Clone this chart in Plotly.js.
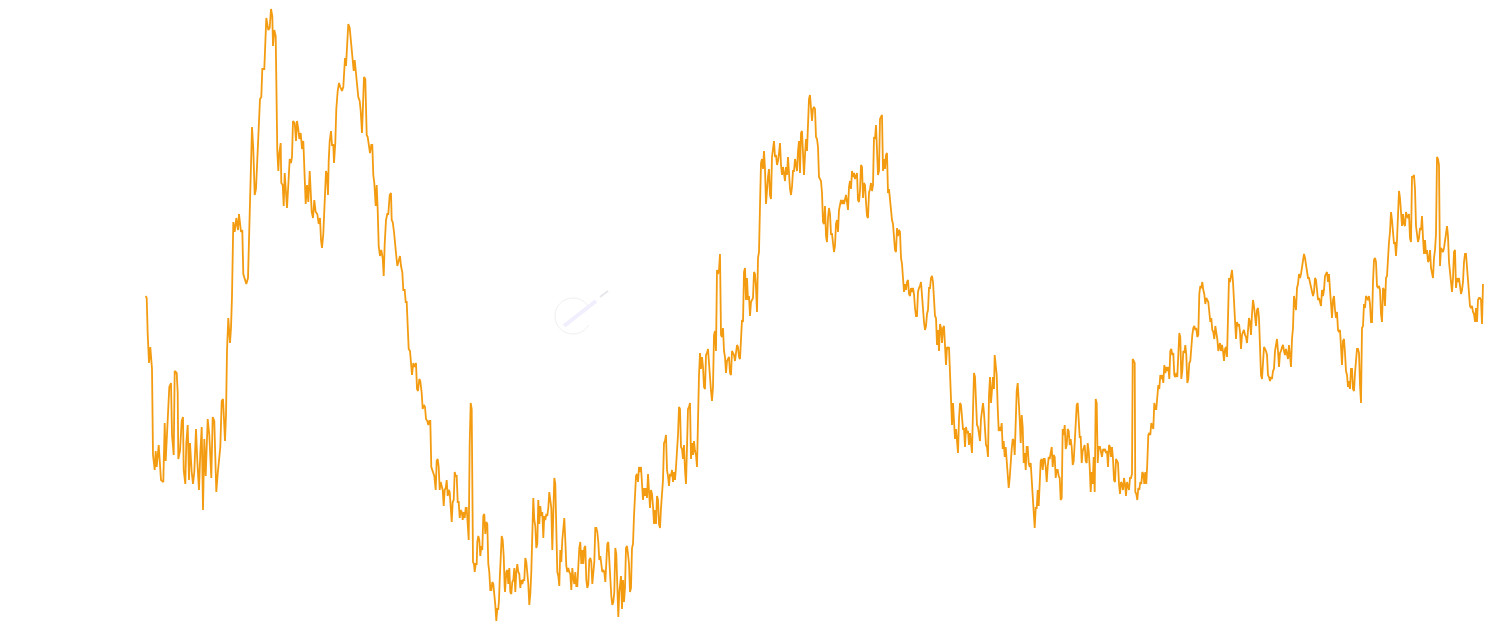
<!DOCTYPE html>
<html>
<head>
<meta charset="utf-8">
<script src="https://cdn.plot.ly/plotly-3.0.1.min.js"></script>
<style>html,body{margin:0;padding:0;background:#fff;}#chart{width:1490px;height:633px;}</style>
</head>
<body>
<div id="chart"></div>
<script>
// Day index and price readings, segment by segment
const dayA = [0.7,1.7,2.7,4,5.3,7,8,9.7,10.7,11.7,13.7,15,16,18.3,19.7,20.7,22.7,24.3,26,27,
28.7,29.7,31.7,32.7,33.3,35,36.7,38,38.7,40.3,41.3,42.7,44,45,46.7,48,49.3,51,52.3,54,
55.3,56.7,58,59.3,60.7,62.7,64.3,65.3,66.3,67.7,69.3,70.3,71.3,72.7,74,75.3,76.7,78,80,81,
82,83.3,85,86,87,88.3,89.7,91.3,93,94,96,97.3,98.3,99.7,101.3,103,104,105,106,107,
108.3,109.7,111,112.3,113.7,115,116.3,117.3];
const priceA = [35.4,35.2,31.6,28.7,30.3,28.1,19.5,18.0,19.9,18.3,20.5,18.3,17.0,16.8,22.7,18.9,23.7,26.3,26.7,21.5,
19.5,27.9,27.7,25.7,19.1,19.9,22.9,23.3,18.0,16.6,20.7,22.5,17.0,20.7,17.8,16.6,17.8,22.1,18.9,16.0,
19.7,22.3,14.0,21.1,17.4,23.1,21.5,18.9,17.2,23.3,22.9,19.3,15.8,17.6,19.1,20.3,24.9,25.1,20.9,23.5,
29.9,33.2,30.7,32.2,35.4,42.8,41.8,43.2,42.0,43.6,41.8,42.0,37.6,37.2,36.6,37.2,40.8,44.0,49.1,52.3,
50.1,45.5,46.1,49.1,53.5,55.1,55.3,58.1];

const dayB = [119.3,121.3,123.3,124.7,126,127.3,128,129.3,130.7,131.3,
132.3,133.3,134.3,135.7,136.3,137.7,138.7,139.7,140.7,142,
143.3,144.7,146,147,148,149.7,151,152,153.3,154.3,
155.7,157,158.3,159.3,160.7,162,163.3,164.7,165.7,166.7,
168,169.3,170.7,172.3,173.7,175,176,177,178.3,179.7,
181,182,183,183.7,184.7,186,187,188.3,189,190.3,
191.3,192.7,194,195.3,197,198.3,199.3,200,201,202,
203.3,204.7,205.7,206.7,207.7,208.7,209.7,211,212,213.3,
214.7,215.7,217,218,219,220.3,221.7,222.7,224,225,
226.3,227.3,228.3,229.3,230.7,231.7,232.7,233.7,235,236.3,
237.7,238.7,239.7];
const priceB = [58.1,63.2,62.0,62.2,64.1,63.4,60.4,62.0,61.4,56.9,
49.9,47.9,49.7,50.7,46.7,46.5,44.4,47.7,45.7,44.2,
46.5,49.1,48.7,49.3,52.9,52.7,50.9,52.9,52.1,51.1,
51.7,50.1,50.9,47.3,44.6,46.5,44.8,47.9,45.5,43.8,
43.2,45.0,43.8,43.6,42.6,43.2,41.0,40.2,41.6,46.1,
47.9,47.5,45.5,48.9,50.9,51.9,50.5,50.5,48.7,50.7,
54.1,55.9,56.7,56.3,55.9,56.3,57.9,59.2,58.4,61.0,
62.6,62.2,61.0,59.8,58.6,57.9,59.0,57.7,56.1,55.3,
54.9,53.9,51.7,55.1,57.3,57.1,51.5,51.3,50.5,49.7,
50.5,50.5,47.5,46.7,44.4,46.5,44.0,40.4,39.4,40.0,
39.2,37.4,40.6];

const dayC = [241,242.3,243.3,244.7,246,246.7,247.7,249,250,251.3,
252.3,253.7,255,256,257.3,258.3,259.7,260.7,261.7,262.7,
263.7,265,266,267,268.3,269.7,271,272,273,274.3,
275.3,276.7,277.7,279,280,281,282.3,283.3,284.3,285.3,
286.3,287.3,288.3,289.3,290.7,291.7,292.7,293.7,294.7,295.7,
296.7,297.7,298.7,299.7,300.7,301.7,302.7,303.7,304.7,305.7,
306.7,307.7,308.7,309.7,310.7,311.7,312.7,313.7,314.7,315.7,
316.7,317.7,318.7,319.7,320.7,321.7,322.7,323.7,324.7,325.7,
326.7,327.3,328,329,329.7,330.7,331.7,
332.3,333.3,334.3,335.3,336.3,337.3,338.3,339.3,340.3,341.3,
342.3,343.3,344.3,345.3,346.3,347.3,348.3,349.3,350.3,351.3,
352.3,353.3,354,354.7,355.7,356.7,357.7,358.7,359.7];
const priceC = [43.0,43.6,43.6,45.5,45.7,43.0,42.8,41.8,40.4,39.4,
38.4,39.0,39.4,38.4,37.8,36.0,36.0,34.8,34.8,32.4,
30.1,29.9,28.9,27.5,28.7,28.3,28.7,26.1,25.9,27.1,
26.9,25.7,24.1,24.5,24.3,23.1,22.9,22.5,22.9,22.9,
18.3,18.0,17.6,17.4,16.0,18.9,19.1,18.3,16.0,16.8,
16.4,16.0,14.4,16.0,16.2,17.0,15.4,16.0,15.8,14.6,
12.8,14.8,15.0,17.8,17.4,17.4,14.8,14.8,13.2,14.0,
13.8,13.0,13.8,13.2,14.2,14.2,12.4,11.0,20.7,24.7,
24.1,13.0,8.8,8.6,7.8,8.6,8.6,
10.8,11.4,11.0,9.4,10.4,10.0,13.4,13.6,11.6,12.8,
12.6,8.6,7.8,6.0,6.0,6.8,6.6,5.8,4.5,2.9,
4.1,4.1,5.0,7.0,9.0,11.4,11.0,9.4,6.2];

const dayD = [360,
361.3,362.3,363.3,364.3,365.3,366.3,367.3,368.3,369.3,370.3,
371.3,372.3,373.3,374.3,375.3,376.3,377.3,378.3,379.3,380.3,
381.3,382.3,383.3,384.3,385.3,386.3,387.3,388.3,389.3,390.3,
391.3,392.3,393.3,394.3,395.3,396.3,397.3,398.3,399.3,400.3,
401.3,402.3,403.3,404.3,405.3,406.3,407.3,408.3,409.3,410.3,
411.3,412.3,413.3,414.3,415.3,416.3,417.3,418.3,419.3,420.3,
421.3,422.3,423.3,424.3,425.3,426.3,427.3,428.3,429.3,430.3,
431.3,432.3,433.3,434.3,435.3,436.3,437.3,438.3,439.3,440.3,
441.3,442.3,443.3,444.3,445.3,446.3,447.3,448.3,449.3,450.3,
451.3,452.3,453.3,454.3,455.3,456.3,457.3,458.3,459.3,460.3,
461.3,462.3,463.3,464.3,465.3,466.3,467.3,468.3,469.3,470.3,
471.3,472.3,473.3,474.3];
const priceD = [5.8,
7.8,8.0,6.6,8.2,5.8,5.6,6.8,7.0,8.2,5.8,
7.8,8.6,7.8,7.6,6.2,7.0,6.6,7.0,7.0,9.2,
8.8,7.8,6.6,4.5,5.6,7.8,11.0,15.2,13.0,12.4,
10.2,10.6,15.0,12.6,14.4,13.4,13.8,11.2,13.4,13.0,
13.6,13.4,14.2,15.8,15.0,14.2,10.0,15.0,17.2,16.6,
11.0,7.8,7.4,6.4,10.0,8.8,11.0,12.6,13.2,11.0,
8.4,7.8,8.2,7.8,7.6,6.0,8.2,7.2,6.6,7.8,
6.4,6.4,8.8,10.2,10.8,8.6,10.0,8.6,10.2,10.4,
7.0,6.2,6.6,9.0,9.2,8.8,6.6,8.0,8.8,12.2,
12.2,11.8,10.8,9.0,9.4,8.6,7.8,8.0,7.8,6.8,
8.6,10.6,10.8,8.6,6.2,5.4,4.5,4.8,5.8,10.2,
9.6,7.0,3.3,5.8];

const dayE = [476,477,478,479,480,481,482,483,484,485,486,487,488,489,490,491,492,493,494,495,
496,497,498,499,500,501,502,503,504,505,506,507,508,509,510,511,512,513,514,515,
516,517,518,519,520,521,522,523,524,525,526,527,528,529,530,531,532,533,534,535,
536,537,538,539,540,541,542,543,544,545,546,547,548,549,550,551,552,553,554,555,
556,557,558,559,560,561,562,563,564,565,566,567,568,569,570,571,572,573,574,575,
576,577,578,579,580,581,582,583,584,585,586,587,588,589,590,591,592,593,594];
const priceE = [7.4,4.1,7.0,4.8,6.2,10.2,10.4,9.6,8.6,5.8,
6.2,10.2,10.6,13.4,15.0,17.4,17.6,16.8,18.3,17.8,
18.3,16.0,15.0,16.2,15.4,16.2,15.2,17.6,16.2,14.2,
16.0,15.6,14.4,12.6,14.0,12.6,15.4,15.0,12.6,12.2,
14.2,16.0,17.0,20.7,20.9,21.5,18.0,17.4,16.4,17.6,
17.4,18.0,16.8,17.8,17.0,18.3,19.5,21.5,24.3,24.1,
20.3,20.1,19.1,20.5,18.0,16.6,20.3,24.1,24.3,24.7,
19.1,20.7,19.5,20.9,19.9,19.5,18.3,25.3,27.5,29.7,
28.1,29.3,28.3,26.3,26.1,29.5,29.7,30.1,28.3,26.5,
25.9,24.9,26.3,31.5,31.9,29.9,38.0,37.6,38.0,39.6,
31.5,31.3,32.2,29.9,29.3,27.7,28.9,29.1,29.3,27.7,
27.5,29.9,29.7,29.5,28.9,29.9,30.5,30.3,29.3];

const dayF = [595,596,597,598,599,600,601,602,603,604,605,606,607,608,609,610,611,612,613,614,
615,616,617,618,619,620,621,622,623,624,625,626,627,628,629,630,631,632,633,634,
635,636,637,638,639,640,641,642,643,644,645,646,647,648,649,650,651,652,653,654,
655,656,657,658,659,660,661,662,663,664,665,666,667,668,669,670,671,672,673,674,
675,676,677,678,679,680,681,682,683,684,685,686,687,688,689,690,691,692,693,694,
695,696,697,698,699,700,701,702,703,704,705,706,707,708,709,710,711,712,713,714];
const priceF = [29.1,30.7,33.0,32.8,37.8,38.2,35.0,37.2,35.0,35.4,
33.4,34.8,35.0,35.2,37.8,37.6,36.2,33.8,39.2,39.8,
44.4,48.7,49.1,48.1,49.9,48.1,44.6,46.3,47.3,48.1,
45.5,45.1,49.3,50.1,50.9,49.3,49.5,48.5,48.9,49.7,
50.7,48.5,47.5,48.3,47.3,46.9,48.3,47.5,49.3,47.3,
46.1,45.5,46.3,47.9,47.9,49.1,48.3,47.9,49.9,50.9,
47.7,51.7,51.9,49.3,47.5,49.5,51.1,49.9,53.7,55.1,
55.5,53.7,52.9,54.1,54.3,54.1,51.3,51.1,50.3,47.3,
47.1,46.9,45.7,42.8,42.6,44.4,41.4,40.8,43.2,44.2,
43.6,41.6,41.6,40.4,39.8,40.4,42.6,43.0,41.8,44.0,
44.6,45.0,44.6,45.0,44.6,45.2,45.5,44.8,44.0,46.3,
46.9,46.1,47.9,47.3,47.7,47.1,47.5,47.7,45.0,44.8];

const dayG = [715,716,717,718,719,720,721,722,723,724,725,726,727,728,729,730,731,732,733,734,
735,736,737,738,739,740,741,742,743,744,745,746,747,748,749,750,751,752,753,754,
755,756,757,758,759,760,761,762,763,764,765,766,767,768,769,770,771,772,773,774,
775,776,777,778,779,780,781,782,783,784,785,786,787,788,789,790,791,792,793,794,
795,796,797,798,799,800,801,802,803,804,805,806,807,808,809,810,811,812,813,814,
815,816,817,818,819,820,821,822,823,824,825,826,827,828,829,830,831,832,833,834];
const priceG = [45.9,48.5,48.3,45.2,46.7,46.5,44.8,43.4,43.2,45.7,
46.1,46.7,45.9,46.5,51.3,51.1,52.5,50.5,47.5,47.9,
53.1,53.3,53.5,47.9,49.1,48.1,49.5,49.7,45.7,46.1,
44.8,44.0,43.0,42.6,41.6,40.0,39.8,42.2,41.4,42.0,
41.8,39.2,38.6,36.8,35.8,36.6,36.0,36.8,37.0,35.6,
35.4,36.2,35.8,36.2,35.6,34.2,33.4,33.4,35.8,36.2,
36.4,36.8,35.2,34.0,32.8,32.0,32.4,33.6,34.0,36.2,
36.2,37.2,37.4,36.8,34.4,33.4,33.2,30.5,32.0,29.9,
32.6,32.2,30.7,32.2,32.4,30.3,28.5,30.3,30.1,30.3,
27.3,25.3,22.5,24.7,22.1,21.1,22.1,21.1,19.7,23.1,
24.7,24.5,23.1,22.1,22.1,20.3,22.3,21.7,21.9,20.5,
21.7,20.9,19.7,23.9,27.7,27.3,24.3,22.5,22.3,21.3];

const dayH = [835,836,837,838,839,840,841,842,843,844,845,846,847,848,849,
849.7,850.7,851.7,852.7,853.7,854.7,855.7,856.7,857.7,858.7,
859.7,860.7,861.7,862.7,863.7,864.7,865.7,866.7,867.7,868.7,
869.7,870.7,871.7,872.7,873.7,874.7,875.7,876.7,877.7,878.7,
879.7,880.7,881.7,882.7,883.7,884.7,885.7,886.7,887.7,888.7,
889.7,890.7,891.7,892.7,893.7,894.7,895.7,896.7,897.7,898.7,
899.7,900.7,901.7,902.7,903.7,904.7,905.7,906.7,907.7,908.7,
909.7,910.7,911.7,912.7,913.7,914.7,915.7,916.7,917.7,918.7,
919.7,920.7,921.7,922.7,923.7,924.7,925.7,926.7,927.7,928.7,
929.7,930.7,931.7,932.7,933.7,934.7,935.7,936.7,937.7,938.7,
939.7,940.7,941.7,942.7,943.7,944.7,945.7,946.7,947.7,948.7,
949.7,950.7,951.7,952.7,953.7];
const priceH = [20.9,23.1,24.3,24.7,23.7,22.3,20.5,20.3,19.3,25.5,27.3,24.7,26.3,27.3,26.1,
29.5,28.5,27.5,24.3,21.9,22.3,21.9,22.7,20.1,20.9,
19.3,20.3,18.7,17.4,16.2,17.2,19.1,20.1,21.1,20.9,
19.5,23.1,25.9,26.7,25.3,23.1,20.7,23.5,22.3,18.7,
19.7,18.0,20.3,20.3,18.7,18.3,18.7,16.6,15.0,13.8,
12.2,14.2,14.2,16.0,14.4,16.6,18.9,19.1,18.0,19.1,
19.1,18.3,16.8,18.3,19.3,19.1,19.7,20.3,18.3,19.5,
19.3,17.2,18.0,18.0,17.4,17.2,15.0,15.2,22.1,21.5,
22.5,20.1,20.5,22.1,21.9,20.5,21.1,20.3,18.5,18.9,
20.7,23.5,24.5,24.7,22.1,21.3,21.3,18.7,19.9,20.3,
20.5,18.9,18.7,20.7,19.9,18.3,15.8,17.8,16.6,19.3,
15.8,25.1,24.7,18.7,20.3];

const dayI = [955,956,957,958,959,960,961,962,963,964,965,966,967,968,969,970,971,972,973,974,
975,976,977,978,979,980,981,982,983,984,985,986,987,
987.7,988.7,989.7,
990.3,991.3,992.3,993.3,994.3,995.3,996.3,997.3,998.3,999.3,
1000.3,1001.3,1002.3,1003.3,1004.3,1005.3,1006.3,1007.3,1008.3,1009.3,
1010.3,1011.3,1012.3,1013.3,1014.3,1015.3,1016.3,1017.3,1018.3,1019.3,
1020.3,1021.3,1022.3,1023.3,1024.3,1025.3,1026.3,1027.3,1028.3,1029.3,
1030.3,1031.3,1032.3,1033.3,1034.3,1035.3,1036.3,1037.3,1038.3,1039.3,
1040.3,1041.3,1042.3,1043.3,1044.3,1045.3,1046.3,1047.3,1048.3,1049.3,
1050.3,1051.3,1052.3,1053.3,1054.3,1055.3,1056.3,1057.3,1058.3,1059.3,
1060.3,1061.3,1062.3,1063.3,1064.3,1065.3,1066.3,1067.3,1068.3,1069.3,
1070.3,1071.3,1072.3,1073.3,1074.3];
const priceI = [20.3,19.9,19.3,20.1,19.9,20.1,19.7,19.9,18.3,20.5,
20.3,19.3,20.3,19.1,17.0,16.8,19.1,18.9,18.7,16.6,
15.6,16.8,16.6,16.0,17.2,16.6,15.4,16.8,16.2,16.0,
17.2,17.2,17.6,
29.1,28.9,28.7,
15.8,15.6,15.0,16.2,16.0,16.8,16.6,17.8,17.6,16.6,
17.8,16.6,18.7,21.5,21.7,21.5,22.7,22.3,22.1,24.7,
24.1,24.1,25.1,26.5,26.1,27.5,27.1,27.5,26.7,28.5,
27.7,28.3,27.9,28.3,27.1,29.9,30.1,29.5,29.7,27.5,
27.3,27.7,27.3,29.5,31.7,31.3,27.1,27.9,29.9,29.7,
30.5,29.5,26.7,27.1,28.7,28.9,30.9,31.5,32.2,32.4,
32.0,32.2,31.3,31.5,35.6,36.4,36.2,36.8,36.0,35.6,
34.6,35.2,35.0,34.8,33.8,32.8,33.2,32.0,31.8,31.1,
32.4,31.8,31.1,29.9,30.7];

const dayJ = [1075,1076,1077,1078,1079,1080,1081,1082,1083,1084,1085,1086,1087,1088,1089,1090,1091,1092,1093,1094,
1095,1096,1097,1098,1099,1100,1101,1102,1103,1104,1105,1106,1107,1108,1109,1110,1111,1112,1113,1114,
1115,1116,1117,1118,1119,1120,1121,1122,1123,1124,1125,1126,1127,1128,1129,1130,1131,1132,1133,1134,
1135,1136,1137,1138,1139,1140,1141,1142,1143,1144,1145,1146,1147,1148,1149,1150,1151,1152,1153,1154,
1155,1156,1157,1158,1159,1160,1161,1162,1163,1164,1165,1166,1167,1168,1169,1170,1171,1172,1173,1174,
1175,1176,1177,1178,1179,1180,1181,1182,1183,1184,1185,1186,1187,1188,1189,1190,1191,1192,1193,1194];
const priceJ = [30.7,29.9,30.5,29.9,28.9,30.1,30.3,29.3,34.4,37.2,
36.8,37.4,38.0,36.8,34.8,32.8,31.1,32.8,32.4,32.6,
31.8,30.1,31.5,31.8,32.0,31.5,31.3,30.7,32.4,33.2,
32.8,31.5,33.6,35.0,34.4,33.4,32.4,34.0,34.2,33.2,
30.7,27.5,27.1,28.3,30.3,30.1,29.9,29.5,27.5,27.3,
26.9,27.3,27.1,27.9,28.1,29.9,30.5,31.1,29.9,28.3,
29.7,29.9,30.3,30.5,29.9,29.5,30.1,29.5,29.1,30.5,
29.5,28.3,31.1,32.2,35.4,34.6,34.0,36.2,36.6,37.6,
37.2,37.6,38.4,39.2,39.6,39.2,38.4,37.6,37.2,37.2,
36.8,36.2,36.0,35.4,35.8,37.2,37.0,35.8,35.0,35.2,
34.8,34.4,36.0,35.4,36.0,37.4,37.6,37.8,36.8,37.6,
36.0,33.8,33.2,35.0,35.4,34.0,33.2,33.8,32.0,31.8];

const dayK = [1195,1196,1197,1198,1199,1200,1201,1202,1203,1204,1205,1206,1207,1208,1209,1210,1211,1212,1213,1214,
1215,1216,1217,1218,1219,1220,1221,1222,1223,1224,1225,1226,1227,1228,1229,1230,1231,1232,1233,1234,
1235,1236,1237,1238,1239,1240,1241,1242,1243,1244,1245,1246,1247,1248,1249,1250,1251,1252,1253,1254,
1255,1256,1257,1258,1259,1260,1261,1262,1263,1264,1265,1266,1267,1268,1269,1270,1271,1272,1273,1274,
1275,1276,1277,1278,1279,1280,1281,1282,1283,1284,1285,1286,1287,1288,1289,1290,1291,1292,1293,1294,
1295,1296,1297,1298,1299,1300,1301,1302,1303,1304,1305,1306,1307,1308,1309,1310,1311,1312,1313,1314,
1315,1316,1317,1318,1319,1320,1321,1322,1323,1324,1325,1326,1327,1328,1329,1330,1331,1332,1333,1334,
1335,1336,1337,1338];
const priceK = [32.0,30.3,28.5,30.9,31.1,29.7,27.9,27.5,26.3,26.9,
26.1,28.1,28.1,26.1,25.9,27.7,29.1,30.1,30.1,29.7,
26.5,24.7,32.2,32.4,34.6,34.2,35.4,35.2,35.0,35.4,
34.6,32.8,32.8,36.8,39.0,39.2,38.8,36.4,36.2,36.4,
36.0,33.6,32.8,36.2,36.0,34.4,37.2,37.4,40.0,40.8,
41.8,43.8,43.0,41.8,40.6,40.8,39.4,41.0,44.8,45.9,
45.2,44.0,42.4,43.6,42.6,42.4,43.8,43.4,43.2,43.6,
41.2,40.8,47.3,47.3,47.5,46.1,42.4,41.6,40.8,41.2,
42.2,42.0,43.4,41.2,39.6,41.0,39.6,40.0,38.8,39.0,
40.0,38.2,37.4,37.2,39.2,40.0,41.6,49.3,49.1,48.5,
38.4,40.2,40.0,39.8,40.2,41.2,41.6,42.4,41.4,38.8,
37.6,36.8,35.8,37.2,39.8,40.0,36.2,37.2,36.8,37.2,
36.0,35.6,36.0,36.8,38.8,39.6,39.6,38.4,36.8,36.4,
34.4,34.2,34.4,33.8,33.6,32.8,34.2,32.8,35.0,35.2,
35.2,35.0,32.6,36.6];

const days = [].concat(dayA, dayB, dayC, dayD, dayE, dayF, dayG, dayH, dayI, dayJ, dayK);
const prices = [].concat(priceA, priceB, priceC, priceD, priceE, priceF, priceG, priceH, priceI, priceJ, priceK);

// Faint watermark logo (decoration only)
const W = 1490, H = 633;
function px(x){ return x / W; }
function py(y){ return 1 - y / H; }
let ring = '';
const cx = 573, cy = 316, r = 18;
for (let a = 35; a <= 330; a += 5) {
  const rad = a * Math.PI / 180;
  const x = cx + r * Math.cos(rad), y = cy - r * Math.sin(rad);
  ring += (a === 35 ? 'M ' : ' L ') + px(x).toFixed(5) + ',' + py(y).toFixed(5);
}
const shapes = [
  {type:'path', xref:'paper', yref:'paper', path: ring, line:{color:'rgba(236,236,240,0.9)', width:1}},
  {type:'line', xref:'paper', yref:'paper', x0:px(564), y0:py(326), x1:px(596), y1:py(301),
   line:{color:'rgba(238,234,253,0.8)', width:4}},
  {type:'line', xref:'paper', yref:'paper', x0:px(600), y0:py(297), x1:px(608), y1:py(291),
   line:{color:'rgba(225,225,230,0.8)', width:2}}
];

const trace = {
  x: days, y: prices, type: 'scatter', mode: 'lines',
  line: {color: '#f39c12', width: 1.8}, hoverinfo: 'skip'
};
const layout = {
  width: W, height: H,
  margin: {l:0, r:0, t:0, b:0, pad:0},
  paper_bgcolor: '#ffffff', plot_bgcolor: '#ffffff',
  showlegend: false,
  xaxis: {range: [-145, 1345], visible: false, fixedrange: true},
  yaxis: {range: [1.7, 65], visible: false, fixedrange: true},
  shapes: shapes
};
Plotly.newPlot('chart', [trace], layout, {staticPlot: true, displayModeBar: false});
</script>
</body>
</html>
